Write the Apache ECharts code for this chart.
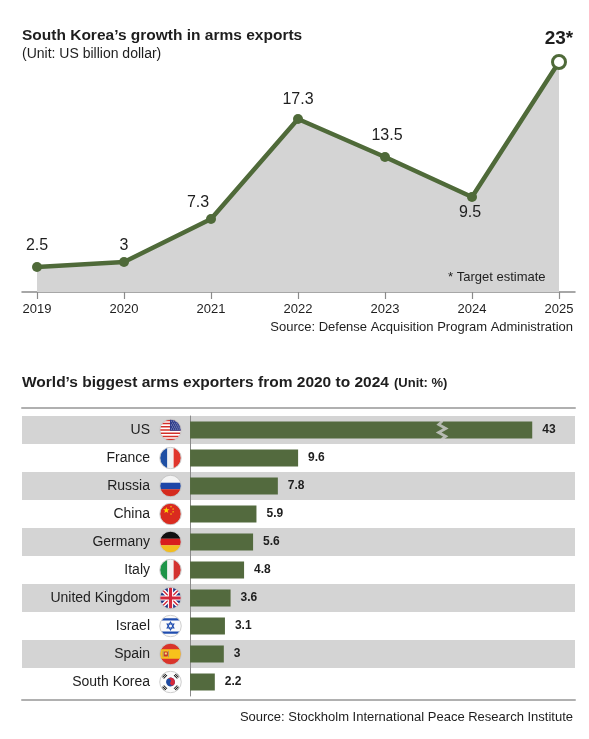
<!DOCTYPE html>
<html><head><meta charset="utf-8">
<script src="https://cdn.jsdelivr.net/npm/echarts@6/dist/echarts.min.js"></script>
<style>html,body{margin:0;padding:0;background:#fff}#c{width:589px;height:739px}</style>
</head><body><div id="c"></div>
<script>
// ---- data ----
const years = [2019, 2020, 2021, 2022, 2023, 2024, 2025];
const exportsBn = [2.5, 3, 7.3, 17.3, 13.5, 9.5, 23];
const exportLabels = ['2.5', '3', '7.3', '17.3', '13.5', '9.5', '23*'];
const countries = ['US', 'France', 'Russia', 'China', 'Germany', 'Italy', 'United Kingdom', 'Israel', 'Spain', 'South Korea'];
const shares = [43, 9.6, 7.8, 5.9, 5.6, 4.8, 3.6, 3.1, 3, 2.2];
const flagCodes = ['us', 'fr', 'ru', 'cn', 'de', 'it', 'uk', 'il', 'es', 'kr'];
const breakStart = 22.4, breakEnd = 35;

// ---- styles ----
const FONT = '"Liberation Sans", Arial, sans-serif';
const GREEN = '#4f6a39';
const BAR = '#536a3e';
const GRAY = '#d4d4d4';
const TXT = '#1e1e1e';
const labelPlace = [
  { position: 'top', distance: 8 },
  { position: 'top', distance: 3 },
  { position: 'top', distance: 3, offset: [-13, 0] },
  { position: 'top', distance: 6 },
  { position: 'top', distance: 8, offset: [2, 0] },
  { position: 'bottom', distance: 3, offset: [-2, 0] },
  { position: 'top', distance: 6, fontWeight: 'bold', fontSize: 19 }
];

// ---- flag icons ----
function flagURI(inner) {
  const svg = '<svg xmlns="http://www.w3.org/2000/svg" width="44" height="44" viewBox="0 0 44 44">' +
    '<defs><clipPath id="c"><circle cx="22" cy="22" r="20"/></clipPath></defs>' +
    '<g clip-path="url(#c)">' + inner + '</g>' +
    '<circle cx="22" cy="22" r="20.6" fill="none" stroke="#c4c4c4" stroke-width="1.6"/></svg>';
  return 'data:image/svg+xml;charset=utf-8,' + encodeURIComponent(svg);
}
function starPts(cx, cy, r) {
  const p = [];
  for (let i = 0; i < 10; i++) {
    const rr = i % 2 ? r * 0.4 : r;
    const a = -Math.PI / 2 + i * Math.PI / 5;
    p.push((cx + rr * Math.cos(a)).toFixed(2) + ',' + (cy + rr * Math.sin(a)).toFixed(2));
  }
  return p.join(' ');
}
const flagSvgs = {};
(function () {
  let s = '<rect width="44" height="44" fill="#fff"/>';
  const h = 40 / 13;
  for (let i = 0; i < 7; i++) s += '<rect x="0" y="' + (2 + i * 2 * h) + '" width="44" height="' + h + '" fill="#d3302a"/>';
  s += '<rect x="21" y="0" width="23" height="23.5" fill="#2e3d8c"/>';
  for (let r = 0; r < 5; r++) for (let c = 0; c < 5; c++) s += '<circle cx="' + (24 + c * 3.6 + (r % 2) * 1.8) + '" cy="' + (5 + r * 3.8) + '" r="0.9" fill="#fff"/>';
  flagSvgs.us = s;
  flagSvgs.fr = '<rect x="0" width="16" height="44" fill="#1f4fa3"/><rect x="16" width="12" height="44" fill="#f2f2f2"/><rect x="28" width="16" height="44" fill="#e0362c"/>';
  flagSvgs.ru = '<rect y="0" width="44" height="16" fill="#f4f4f4"/><rect y="16" width="44" height="12" fill="#1d46a8"/><rect y="28" width="44" height="16" fill="#d52b1e"/>';
  flagSvgs.cn = '<rect width="44" height="44" fill="#da2b1f"/><polygon points="' + starPts(14, 15, 6.5) + '" fill="#ffd800"/>' +
    '<polygon points="' + starPts(23, 8, 2.2) + '" fill="#ffd800"/><polygon points="' + starPts(27, 12.5, 2.2) + '" fill="#ffd800"/>' +
    '<polygon points="' + starPts(27, 18, 2.2) + '" fill="#ffd800"/><polygon points="' + starPts(23, 22, 2.2) + '" fill="#ffd800"/>';
  flagSvgs.de = '<rect y="0" width="44" height="16" fill="#111"/><rect y="16" width="44" height="12" fill="#d81e1e"/><rect y="28" width="44" height="16" fill="#f2bd1e"/>';
  flagSvgs.it = '<rect x="0" width="16" height="44" fill="#1e9448"/><rect x="16" width="12" height="44" fill="#f3f3f3"/><rect x="28" width="16" height="44" fill="#d3322f"/>';
  flagSvgs.uk = '<rect width="44" height="44" fill="#233a86"/><path d="M0,0 L44,44 M44,0 L0,44" stroke="#fff" stroke-width="8"/>' +
    '<path d="M0,0 L44,44 M44,0 L0,44" stroke="#d3283a" stroke-width="2.6"/><rect x="0" y="17" width="44" height="10" fill="#fff"/><rect x="17" y="0" width="10" height="44" fill="#fff"/>' +
    '<rect x="0" y="19" width="44" height="6" fill="#d3283a"/><rect x="19" y="0" width="6" height="44" fill="#d3283a"/>';
  flagSvgs.il = '<rect width="44" height="44" fill="#fafafa"/><rect y="7" width="44" height="4.5" fill="#1f4cae"/><rect y="32.5" width="44" height="4.5" fill="#1f4cae"/>' +
    '<polygon points="22,14.5 28.5,25.8 15.5,25.8" fill="none" stroke="#1f4cae" stroke-width="2"/><polygon points="22,29.5 28.5,18.2 15.5,18.2" fill="none" stroke="#1f4cae" stroke-width="2"/>';
  flagSvgs.es = '<rect width="44" height="44" fill="#d9342b"/><rect y="13" width="44" height="18" fill="#f7c21c"/>' +
    '<rect x="9" y="17" width="8" height="10" rx="2" fill="#c8322b"/><rect x="11" y="19" width="4" height="4" fill="#f7e07a"/><rect x="7" y="16" width="1.6" height="12" fill="#9a8f7a"/><rect x="17.6" y="16" width="1.6" height="12" fill="#9a8f7a"/>';
  flagSvgs.kr = '<rect width="44" height="44" fill="#fbfbfb"/><g transform="rotate(34 22 22)"><circle cx="22" cy="22" r="8.5" fill="#1f4aa0"/>' +
    '<path d="M13.5,22 A8.5,8.5 0 0 1 30.5,22 A4.25,4.25 0 0 1 22,22 A4.25,4.25 0 0 0 13.5,22 Z" fill="#d6283a"/></g>' +
    '<g fill="#111"><g transform="translate(10,10) rotate(-45)"><rect x="-4.5" y="-4" width="9" height="1.8"/><rect x="-4.5" y="-1" width="9" height="1.8"/><rect x="-4.5" y="2" width="9" height="1.8"/></g>' +
    '<g transform="translate(34,34) rotate(-45)"><rect x="-4.5" y="-4" width="9" height="1.8"/><rect x="-4.5" y="-1" width="9" height="1.8"/><rect x="-4.5" y="2" width="9" height="1.8"/></g>' +
    '<g transform="translate(34,10) rotate(45)"><rect x="-4.5" y="-4" width="9" height="1.8"/><rect x="-4.5" y="-1" width="9" height="1.8"/><rect x="-4.5" y="2" width="9" height="1.8"/></g>' +
    '<g transform="translate(10,34) rotate(45)"><rect x="-4.5" y="-4" width="9" height="1.8"/><rect x="-4.5" y="-1" width="9" height="1.8"/><rect x="-4.5" y="2" width="9" height="1.8"/></g></g>';
})();
const rich = { n: { fontSize: 14, color: TXT, fontFamily: FONT, padding: [0, 9, 0, 0] } };
flagCodes.forEach(function (k) {
  rich[k] = { width: 23, height: 23, backgroundColor: { image: flagURI(flagSvgs[k]) } };
});
const flagOf = {};
countries.forEach(function (c, i) { flagOf[c] = flagCodes[i]; });

// ---- chart ----
const chart = echarts.init(document.getElementById('c'));
const lineData = years.map(function (y, i) {
  const p = labelPlace[i];
  const item = {
    value: [y, exportsBn[i]],
    label: {
      position: p.position, distance: p.distance, offset: p.offset || [0, 0],
      fontSize: p.fontSize || 16, fontWeight: p.fontWeight || 'normal',
      formatter: exportLabels[i]
    }
  };
  if (i === years.length - 1) {
    item.symbolSize = 13;
    item.itemStyle = { color: '#fff', borderColor: GREEN, borderWidth: 3 };
  }
  return item;
});

chart.setOption({
  animation: false,
  textStyle: { fontFamily: FONT },
  title: [
    { text: 'South Korea’s growth in arms exports', left: 22, top: 28, padding: 0, textStyle: { fontSize: 15.5, fontWeight: 'bold', color: TXT, fontFamily: FONT } },
    { text: '(Unit: US billion dollar)', left: 22, top: 47, padding: 0, textStyle: { fontSize: 14, fontWeight: 'normal', color: TXT, fontFamily: FONT } },
    { text: '* Target estimate', left: 448, top: 271, padding: 0, textStyle: { fontSize: 13, fontWeight: 'normal', color: TXT, fontFamily: FONT } },
    { text: 'Source: Defense Acquisition Program Administration', right: 16, top: 321, padding: 0, textStyle: { fontSize: 13, fontWeight: 'normal', color: TXT, fontFamily: FONT } },
    { text: '{b|World’s biggest arms exporters from 2020 to 2024} {n|(Unit: %)}', left: 22, top: 374, padding: 0,
      textStyle: { rich: { b: { fontSize: 15.5, fontWeight: 'bold', color: TXT, fontFamily: FONT }, n: { fontSize: 13, color: TXT, fontFamily: FONT } } } },
    { text: 'Source: Stockholm International Peace Research Institute', right: 16, top: 711, padding: 0, textStyle: { fontSize: 13, fontWeight: 'normal', color: TXT, fontFamily: FONT } }
  ],
  grid: [
    { left: 22, right: 14, top: 42, bottom: 447, outerBoundsMode: 'none', containLabel: false },
    { left: 22, right: 14, top: 416, height: 280, outerBoundsMode: 'none', containLabel: false }
  ],
  xAxis: [
    {
      gridIndex: 0, type: 'value', min: 2019 - 15 / 87, max: 2025 + 16 / 87,
      axisLine: { lineStyle: { color: '#8a8a8a', width: 1.5 } },
      axisTick: { show: true, customValues: years, length: 7, lineStyle: { color: '#8a8a8a', width: 1.2 } },
      axisLabel: { customValues: years, fontSize: 13, color: TXT, margin: 11, formatter: function (v) { return String(v); } },
      splitLine: { show: false }
    },
    {
      gridIndex: 1, type: 'value', min: -14.93, max: 46.8, position: 'bottom', offset: 4,
      breaks: [{ start: breakStart, end: breakEnd, gap: 0 }],
      breakArea: { show: false },
      axisLine: { show: true, onZero: false, lineStyle: { color: '#b0b0b0', width: 2 } },
      axisTick: { show: false }, axisLabel: { show: false }, splitLine: { show: false }
    },
    {
      gridIndex: 1, type: 'value', min: 0, max: 1, position: 'top', offset: 8,
      axisLine: { show: true, onZero: false, lineStyle: { color: '#b0b0b0', width: 2 } },
      axisTick: { show: false }, axisLabel: { show: false }, splitLine: { show: false }
    }
  ],
  yAxis: [
    { gridIndex: 0, type: 'value', min: 0, max: 25, show: false },
    {
      gridIndex: 1, type: 'category', data: countries, inverse: true,
      axisLine: { show: true, onZero: true, onZeroAxisIndex: 1, lineStyle: { color: '#8a8a8a', width: 1 } },
      axisTick: { show: false },
      axisLabel: {
        interval: 0, margin: -160, rich: rich,
        formatter: function (v) { return '{n|' + v + '}{' + flagOf[v] + '|}'; }
      },
      splitArea: { show: true, interval: 0, areaStyle: { color: [GRAY, 'rgba(255,255,255,0)'] } },
      splitLine: { show: false }
    }
  ],
  series: [
    {
      type: 'line', xAxisIndex: 0, yAxisIndex: 0, data: lineData,
      symbol: 'circle', symbolSize: 10,
      itemStyle: { color: GREEN },
      lineStyle: { color: GREEN, width: 4.5 },
      areaStyle: { color: GRAY, opacity: 1 },
      label: { show: true, color: TXT, fontFamily: FONT }
    },
    {
      type: 'bar', xAxisIndex: 1, yAxisIndex: 1, data: shares, barWidth: 17,
      itemStyle: { color: BAR },
      label: { show: true, position: 'right', distance: 10, fontSize: 12, fontWeight: 'bold', color: TXT, fontFamily: FONT }
    },
    {
      type: 'scatter', xAxisIndex: 1, yAxisIndex: 1, silent: true, z: 5,
      data: [[breakStart, countries[0]]],
      symbol: 'path://M2.5,0 L0,4 L4,8 L0,12 L4,16 L1.5,19', symbolSize: [7, 19],
      itemStyle: { color: 'rgba(0,0,0,0)', borderColor: '#cfcfcf', borderWidth: 2 }
    }
  ]
});
</script></body></html>
